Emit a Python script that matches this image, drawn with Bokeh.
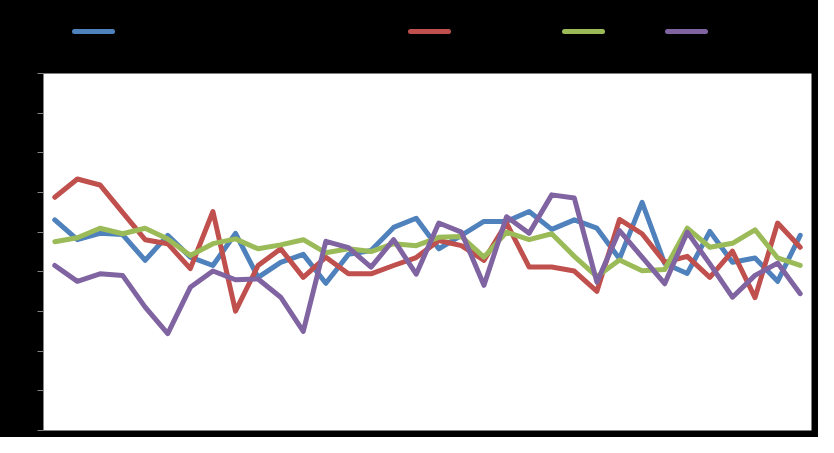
from bokeh.plotting import figure
from bokeh.layouts import column
from bokeh.models import FactorRange, Range1d, SingleIntervalTicker, Div
from bokeh.embed import file_html
from bokeh.resources import INLINE

categories = [str(i) for i in range(1, 35)]
series_names = ["Series 1", "Series 2", "Series 3", "Series 4"]
series_colors = ["#4F81BD", "#C0504D", "#9BBB59", "#8064A2"]

blue = [53.1, 48.1, 49.7, 49.4, 42.9, 49.2, 43.7, 41.6, 49.7, 38.6, 42.4, 44.4, 37.1, 44.4, 45.4, 51.2, 53.5,
        45.8, 49.2, 52.7, 52.7, 55.2, 50.7, 53.1, 51.0, 43.3, 57.5, 42.1, 39.6, 50.2, 42.4, 43.5, 37.6, 49.2]
red = [58.8, 63.4, 61.9, 55.0, 48.1, 47.1, 40.8, 55.2, 30.1, 41.6, 45.8, 38.6, 43.7, 39.5, 39.5, 41.6, 43.6,
       47.9, 46.6, 42.9, 52.3, 41.2, 41.2, 40.2, 35.1, 53.2, 49.6, 42.4, 43.9, 38.6, 45.2, 33.5, 52.3, 46.2]
green = [47.6, 48.6, 51.0, 49.6, 51.0, 48.3, 44.1, 47.1, 48.3, 45.8, 46.8, 48.1, 44.8, 45.8, 45.1, 47.1, 46.6,
         48.7, 48.9, 43.7, 50.0, 48.1, 49.6, 43.9, 38.8, 43.0, 40.3, 40.6, 51.0, 46.2, 47.2, 50.6, 43.5, 41.6]
purple = [41.6, 37.6, 39.5, 39.1, 31.1, 24.4, 36.1, 40.2, 38.0, 38.2, 33.6, 25.0, 47.7, 46.1, 41.2, 48.1, 39.4,
          52.3, 50.0, 36.6, 53.9, 49.7, 59.4, 58.6, 37.4, 50.4, 43.7, 37.0, 50.0, 42.0, 33.6, 39.1, 42.2, 34.5]

y_min, y_max, y_step = 0, 90, 10

TOTAL_W, TOTAL_H, LEGEND_H = 818, 437, 60

# main chart
p = figure(width=TOTAL_W, height=TOTAL_H - LEGEND_H, output_backend="svg", toolbar_location=None,
           x_range=FactorRange(*categories, range_padding=0),
           y_range=Range1d(y_min, y_max),
           min_border_left=43, min_border_right=7, min_border_top=13, min_border_bottom=7,
           styles={"background-color": "black"})
p.border_fill_color = "black"
p.background_fill_color = "white"
p.outline_line_color = None
p.xgrid.visible = False
p.ygrid.visible = False

p.yaxis.ticker = SingleIntervalTicker(interval=y_step)
p.yaxis.axis_line_color = "#868686"
p.yaxis.major_tick_line_color = "#868686"
p.yaxis.major_tick_out = 6
p.yaxis.major_tick_in = 0
p.yaxis.minor_tick_line_color = None
p.yaxis.major_label_text_color = "black"
p.yaxis.major_label_text_font_size = "8pt"
p.yaxis.major_label_standoff = 2

p.xaxis.visible = False

for data, color in zip([blue, red, green, purple], series_colors):
    p.line(categories, data, line_color=color, line_width=5, line_join="round", line_cap="round")

# legend strip above the chart (HTML)
legend_x = [72, 408, 562, 665]
parts = []
for name, color, lx in zip(series_names, series_colors, legend_x):
    parts.append(
        f'<div style="position:absolute;left:{lx}px;top:29px;width:43px;height:5px;'
        f'border-radius:2.5px;background:{color};"></div>'
        f'<div style="position:absolute;left:{lx + 49}px;top:23px;font:9pt \'Liberation Sans\';'
        f'color:black;white-space:nowrap;">{name}</div>'
    )
legend_html = (f'<div style="position:relative;width:{TOTAL_W}px;height:{LEGEND_H}px;background:black;">'
               + "".join(parts) + '</div>')
legend_div = Div(text=legend_html, width=TOTAL_W, height=LEGEND_H, margin=0,
                 styles={"background-color": "black"})

layout = column(legend_div, p, spacing=0, styles={"background-color": "black"})
open("out.html", "w").write(file_html(layout, INLINE))
